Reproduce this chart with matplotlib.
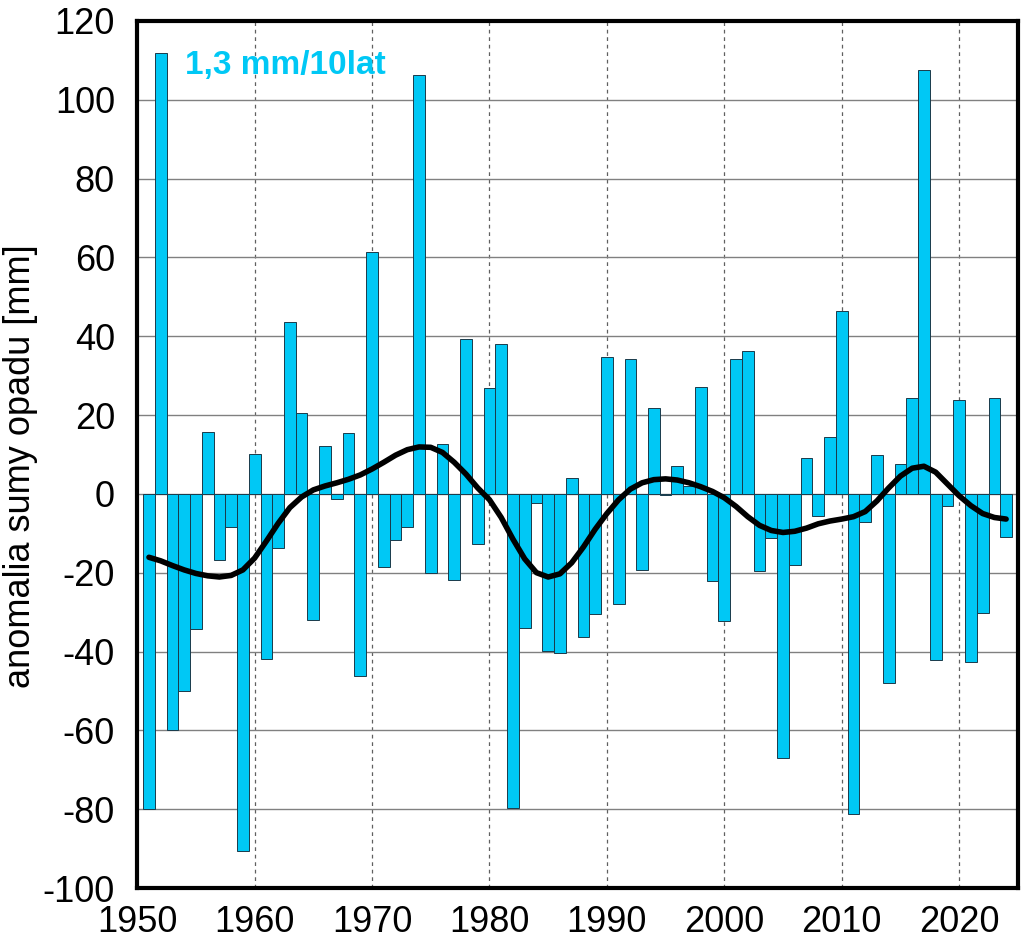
import numpy as np
import matplotlib
matplotlib.use("Agg")
import matplotlib.pyplot as plt

# ── data ─────────────────────────────────────────────────────────────────────
years = list(range(1951, 2025))

anomaly = [
    -80.0, 111.8, -59.9, -50.1, -34.3, 15.6, -16.7, -8.4, -90.7, 10.1,   # 1951-1960
    -42.0, -13.7, 43.7, 20.4, -32.0, 12.2, -1.4, 15.4, -46.3, 61.3,      # 1961-1970
    -18.6, -11.7, -8.4, 106.2, -20.1, 12.7, -21.8, 39.2, -12.7, 26.8,    # 1971-1980
    38.1, -79.8, -34.0, -2.4, -39.9, -40.5, 3.9, -36.4, -30.6, 34.7,     # 1981-1990
    -27.9, 34.3, -19.2, 21.9, -0.4, 7.0, 2.1, 27.1, -22.2, -32.2,        # 1991-2000
    34.3, 36.3, -19.6, -11.2, -67.0, -18.1, 9.0, -5.6, 14.3, 46.3,       # 2001-2010
    -81.3, -7.1, 9.9, -48.1, 7.5, 24.4, 107.5, -42.1, -3.1, 23.7,        # 2011-2020
    -42.6, -30.3, 24.4, -11.0,                                           # 2021-2024
]

smooth = [
    -16.1, -17.0, -18.2, -19.3, -20.2, -20.8, -21.1, -20.7, -19.3, -16.3,
    -12.0, -7.5, -3.5, -0.8, 1.0, 2.0, 2.8, 3.7, 4.8, 6.3,
    8.0, 9.8, 11.2, 11.9, 11.8, 10.5, 8.0, 5.0, 1.5, -1.5,
    -6.0, -11.5, -16.5, -20.0, -21.1, -20.3, -17.5, -13.5, -9.0, -5.0,
    -1.5, 1.2, 2.8, 3.6, 3.8, 3.5, 2.8, 1.8, 0.6, -1.0,
    -3.2, -5.8, -8.0, -9.3, -9.8, -9.5, -8.7, -7.6, -6.9, -6.4,
    -5.8, -4.5, -1.8, 1.5, 4.5, 6.5, 7.0, 5.5, 2.5, -0.5,
    -3.0, -5.0, -6.0, -6.4,
]

trend_label = "1,3 mm/10lat"
y_ticks = list(range(-100, 121, 20))
x_ticks = list(range(1950, 2021, 10))

# ── figure ───────────────────────────────────────────────────────────────────
plt.rcParams["font.family"] = ["Liberation Sans", "DejaVu Sans"]
plt.rcParams["axes.unicode_minus"] = False
CYAN = "#00C8F5"

fig = plt.figure(figsize=(10.24, 9.47), dpi=100)
ax = fig.add_axes([0.134, 0.0623, 0.860, 0.9157])

ax.bar(years, anomaly, width=1.0, color=CYAN, edgecolor="#1a3a4a",
       linewidth=0.7, zorder=2)
ax.plot(years, smooth, color="black", lw=4, solid_capstyle="round", zorder=3)

ax.set_xlim(1950, 2025)
ax.set_ylim(-100, 120)
ax.set_xticks(x_ticks)
ax.set_yticks(y_ticks)
ax.tick_params(axis="both", length=0, labelsize=26)
ax.tick_params(axis="x", pad=12)
ax.tick_params(axis="y", pad=16)

ax.yaxis.grid(True, color="#808080", lw=1.0, zorder=1)
ax.xaxis.grid(True, color="#606060", lw=0.9, ls=(0, (3, 3)), zorder=1)
ax.set_axisbelow(True)
for s in ax.spines.values():
    s.set_linewidth(3)

ax.set_ylabel("anomalia sumy opadu [mm]", fontsize=26)
ax.yaxis.set_label_coords(-0.113, 0.486)
ax.text(0.0545, 0.949, trend_label, transform=ax.transAxes, color=CYAN,
        fontsize=24, fontweight="bold", va="center", ha="left", zorder=4)

fig.savefig("out.png", dpi=100)
plt.close(fig)
